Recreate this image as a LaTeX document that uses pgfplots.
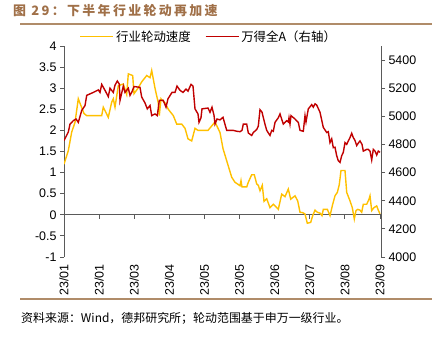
\documentclass[border=0pt]{standalone}
\usepackage{fontspec}
\setmainfont{Liberation Sans}
\newfontfamily\cjk{Noto Sans CJK SC}
\usepackage{pgfplots}
\pgfplotsset{compat=1.18}
\definecolor{ylw}{RGB}{255,192,0}
\definecolor{rd}{RGB}{192,0,0}
\definecolor{brn}{RGB}{160,112,72}
\definecolor{rulec}{RGB}{176,140,105}
\definecolor{axc}{RGB}{90,90,90}

\begin{document}
\begin{tikzpicture}
\useasboundingbox (0bp,0bp) rectangle (441bp,337bp);
\node[anchor=west, text=brn, inner sep=0pt, font=\cjk\bfseries\fontsize{13}{15}\selectfont\addfontfeature{LetterSpace=18}] at (13bp,326bp) {图 29：下半年行业轮动再加速};
\draw[rulec, line width=2bp] (20bp,313bp) -- (432bp,313bp);
\draw[rulec, line width=2bp] (20bp,38bp) -- (432bp,38bp);
\node[anchor=west, inner sep=0pt, font=\cjk\fontsize{12}{14}\selectfont] at (21bp,19bp) {资料来源：Wind，德邦研究所；轮动范围基于申万一级行业。};

\begin{axis}[
  at={(64bp,80bp)}, anchor=south west, scale only axis, width=317bp, height=211bp,
  xmin=0, xmax=317, ymin=-1, ymax=4,
  axis y line*=left, axis x line*=bottom,
  x axis line style={draw=none},
  y axis line style={axc, line width=0.8bp},
  xtick={0,35.1,70.2,105.3,140.4,175.5,210.6,245.7,280.8,315.9},
  xticklabels={23/01,23/01,23/03,23/04,23/05,23/05,23/06,23/07,23/08,23/09},
  xticklabel style={rotate=90, anchor=east, font=\fontsize{12.5}{14}\selectfont},
  xtick style={draw=none},
  ytick={-1,-0.5,0,0.5,1,1.5,2,2.5,3,3.5,4},
  yticklabels={-1,-0.5,0,0.5,1,1.5,2,2.5,3,3.5,4},
  yticklabel style={font=\fontsize{12.5}{14}\selectfont},
  ytick style={axc, line width=0.8bp},
  tick align=outside, major tick length=4bp,
]
\draw[axc, line width=0.8bp] (axis cs:0,0) -- (axis cs:317,0);
\pgfplotsinvokeforeach{0,35.1,70.2,105.3,140.4,175.5,210.6,245.7,280.8,315.9}{
  \draw[axc, line width=0.8bp] (axis cs:#1,0) -- ++(0bp,-4bp);
}
\addplot[ylw, line width=1.4bp, no marks] table {
0 1.2
4.3 1.52
7.7 1.96
11 2.19
14.3 2.75
16.7 2.6
20 2.4
22.7 2.35
37.7 2.35
39.3 2.55
44.3 2.31
47.7 2.67
49.3 2.75
51 2.55
54.3 3.06
59.3 3.1
62.7 2.85
64.3 3.34
68.7 3.3
70 2.87
74 3.0
77.7 3.15
82.7 3.3
86 3.25
87.7 3.42
91 3.0
94.3 2.65
95.3 2.35
97 2.75
101 2.65
104.3 2.5
109.3 2.35
112.7 2.15
117.7 2.15
121 2.05
124 1.8
127.7 1.75
131 2.05
134 2.0
144 2.0
151 2.2
156 1.95
159 1.57
162.7 1.28
167.7 0.89
171 0.77
176 0.69
177 0.81
178 0.66
182.7 0.66
184.3 0.77
187.7 0.95
190.3 0.95
192.7 0.73
194.3 0.7
196 0.57
198.3 0.7
200 0.32
202.7 0.38
206 0.17
209.3 0.25
214.3 0.13
217.7 0.49
221 0.43
224.3 0.61
226.7 0.37
231 0.45
233.7 0.33
236 0.06
238.7 0.05
241 0.02
243.3 -0.2
246.7 -0.18
248.7 -0.02
251 0.11
253.3 0.06
256 0.04
258 -0.02
259.3 0.13
263.3 0.13
266 -0.02
268.7 0.25
271 0.45
273.3 0.53
275.3 0.72
277 1.05
281 1.05
282.7 0.53
286 0.33
288.3 0.17
290.3 -0.1
292 0.1
293.7 0.13
296 0.11
297.7 0.06
299.3 0.25
302.7 0.25
305 0.37
306 0.45
307.7 0.1
310 0.17
312.7 0.21
314.3 0.11
316 0.02
};
\end{axis}

\begin{axis}[
  at={(64bp,80bp)}, anchor=south west, scale only axis, width=317bp, height=211bp,
  xmin=0, xmax=317, ymin=4000, ymax=5500,
  axis y line*=right, axis x line=none,
  y axis line style={axc, line width=0.8bp},
  ytick={4000,4200,4400,4600,4800,5000,5200,5400},
  yticklabels={4000,4200,4400,4600,4800,5000,5200,5400},
  yticklabel style={font=\fontsize{12.5}{14}\selectfont},
  ytick style={axc, line width=0.8bp},
  tick align=outside, major tick length=4bp,
  legend columns=2,
  legend style={at={(0.457,1)}, anchor=south, draw=none, fill=none,
    font=\cjk\fontsize{12.5}{14}\selectfont, inner sep=1bp,
    /tikz/every even column/.append style={column sep=12bp}},
  legend image code/.code={\draw[#1] (0bp,0bp) -- (33bp,0bp);},
]
\addlegendimage{ylw, line width=1.4bp}
\addlegendentry{行业轮动速度}
\addplot[rd, line width=1.4bp, no marks] table {
0 4828
4.3 4888
6 4945
9.3 4969
12 4981
14.3 4957
17.7 5041
21 5077
22.7 5149
29.3 5170
34.3 5188
36 5170
37.7 5227
41 5185
44.3 5140
46 5200
49.3 5170
51 5221
53.3 5251
55.3 5230
56 5113
59.3 5215
61 5170
64.3 5200
66 5149
67.7 5170
70 5212
76 5206
77.7 5137
81 5095
83.3 5053
86 5077
87.7 5005
91 5017
93.3 5005
95.3 5113
99.3 5113
102 5065
104 5125
108 5170
111 5170
113 5215
116 5185
119 5170
122 5194
124 5179
127 5227
129 5215
131 5053
134 5017
135 4957
137 4990
138 5053
144 5059
146 5029
148 5065
150 5008
151 4945
153 4981
156 4975
159 4993
162.7 4900
169.3 4900
172.7 4894
176 4891
178 4900
179.3 4945
182.7 4945
184.3 4882
187.7 4864
189.3 4885
192.7 4906
194.3 4930
196 5047
198 5030
200.5 4957
202.7 4900
206 4864
207.7 4900
209.3 4894
211 4957
214.3 4990
216 5017
219.3 4945
222.7 4969
224.3 4960
225 4990
226 4945
227 5005
231 4981
234.3 4957
236 4900
239.3 4894
241 5005
242 4960
244.3 5053
247.7 5083
249.3 5065
251 5089
252.7 5080
256 5029
259.3 4921
262.7 4885
264.3 4891
266 4813
267.7 4840
269.3 4777
271 4780
272.7 4720
274.3 4684
276 4672
277.7 4720
279.3 4744
281 4813
282.7 4801
284.3 4825
286 4849
287.7 4879
289.3 4849
291 4828
292.7 4792
294.3 4810
296 4825
298 4801
299.3 4753
302.7 4765
304.3 4765
306 4753
307.7 4690
309.3 4765
311 4753
312.7 4725
314.3 4753
316 4744
};
\addlegendentry{万得全A（右轴）}
\end{axis}
\end{tikzpicture}
\end{document}
